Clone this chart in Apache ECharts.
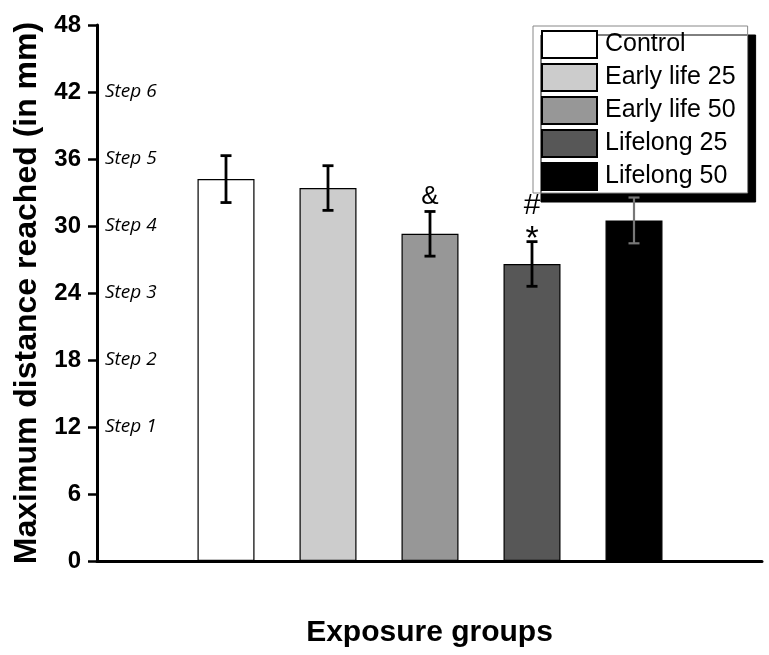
<!DOCTYPE html>
<html>
<head>
<meta charset="utf-8">
<script src="https://cdn.jsdelivr.net/npm/echarts@6/dist/echarts.min.js"></script>
<style>html,body{margin:0;padding:0;background:#fff}#c{width:769px;height:655px}</style>
</head>
<body>
<div id="c"></div>
<script>
const categories = ['Control', 'Early life 25', 'Early life 50', 'Lifelong 25', 'Lifelong 50'];
const means = [34.2, 33.4, 29.3, 26.6, 30.5];
const sds = [2.1, 2.0, 2.0, 2.0, 2.05];
const annotations = ['', '', '&', '#\n*', ''];
const yTicks = [0, 6, 12, 18, 24, 30, 36, 42, 48];
const stepTicks = [12, 18, 24, 30, 36, 42];
const stepNames = ['Step 1', 'Step 2', 'Step 3', 'Step 4', 'Step 5', 'Step 6'];

const barColors = ['#ffffff', '#cccccc', '#979797', '#575757', '#000000'];
const errColors = ['#000', '#000', '#000', '#000', '#777'];

const chart = echarts.init(document.getElementById('c'), null, {renderer: 'canvas'});
const F = 'Liberation Sans, Arial, sans-serif';
const TOP = 25, BOTTOM = 94;

const barSeries = categories.map((name, i) => ({
  name: name,
  type: 'bar',
  xAxisIndex: 1, yAxisIndex: 2,
  barWidth: 57,
  barGap: '-100%',
  data: categories.map((c, j) => j === i ? means[j] : null),
  itemStyle: {color: barColors[i], borderColor: '#000', borderWidth: 1.2},
  emphasis: {disabled: true},
  z: 2
}));

const errSeries = {
  type: 'custom',
  xAxisIndex: 1, yAxisIndex: 2,
  z: 5,
  silent: true,
  data: categories.map((c, i) => [i, means[i], sds[i]]),
  renderItem: function (params, api) {
    const i = api.value(0), m = api.value(1), s = api.value(2);
    const top = api.coord([i, m + s]);
    const bot = api.coord([i, m - s]);
    const col = errColors[i];
    const lw = i === 4 ? 2.2 : 2.8;
    const hw = 5.5;
    const children = [
      {type: 'line', shape: {x1: top[0], y1: top[1], x2: bot[0], y2: bot[1]}, style: {stroke: col, lineWidth: lw}},
      {type: 'line', shape: {x1: top[0] - hw, y1: top[1], x2: top[0] + hw, y2: top[1]}, style: {stroke: col, lineWidth: lw}},
      {type: 'line', shape: {x1: bot[0] - hw, y1: bot[1], x2: bot[0] + hw, y2: bot[1]}, style: {stroke: col, lineWidth: lw}}
    ];
    const ann = annotations[i];
    if (ann) {
      const lines = ann.split('\n').reverse();
      lines.forEach((t, k) => {
        const isStar = t === '*';
        children.push({
          type: 'text',
          style: {
            text: t, x: top[0], y: top[1] - (isStar ? 2 : 15) - k * 21,
            textAlign: 'center', textVerticalAlign: 'middle',
            font: (isStar ? '34px ' : (t === '&' ? '26px ' : '30px ')) + F,
            fill: '#000'
          }
        });
      });
    }
    return {type: 'group', children: children};
  }
};

const option = {
  backgroundColor: '#fff',
  animation: false,
  legend: {
    orient: 'vertical',
    left: 533, top: 26,
    data: categories,
    itemWidth: 55, itemHeight: 27, itemGap: 4,
    padding: [4, 12, 2, 8],
    icon: 'rect',
    backgroundColor: '#fff',
    borderColor: '#888', borderWidth: 1,
    shadowColor: '#000', shadowBlur: 0, shadowOffsetX: 8, shadowOffsetY: 9,
    selectedMode: false,
    textStyle: {fontFamily: F, fontSize: 25, color: '#000', padding: [0, 0, 0, 3]}
  },
  grid: [
    {left: 97, right: 7, top: TOP, bottom: BOTTOM},
    {left: 175, width: 510, top: TOP, bottom: BOTTOM}
  ],
  xAxis: [
    {gridIndex: 0, type: 'value', min: 0, max: 1,
     name: 'Exposure groups', nameLocation: 'middle', nameGap: 57,
     nameTextStyle: {fontFamily: F, fontSize: 30, fontWeight: 'bold', color: '#000'},
     axisLine: {show: true, lineStyle: {color: '#000', width: 3}},
     axisTick: {show: false}, axisLabel: {show: false}, splitLine: {show: false}},
    {gridIndex: 1, type: 'category', data: categories, show: false}
  ],
  yAxis: [
    {gridIndex: 0, type: 'value', min: 0, max: 48, interval: 6,
     name: 'Maximum distance reached (in mm)', nameLocation: 'middle', nameGap: 53,
     nameTextStyle: {fontFamily: F, fontSize: 32, fontWeight: 'bold', color: '#000'},
     axisLine: {show: true, lineStyle: {color: '#000', width: 3}},
     axisTick: {show: true, length: 9, lineStyle: {color: '#000', width: 2.5}},
     axisLabel: {margin: 16, fontFamily: F, fontSize: 24, fontWeight: 'bold', color: '#000',
       formatter: v => yTicks.indexOf(v) >= 0 ? String(v) : ''},
     splitLine: {show: false}},
    {gridIndex: 0, type: 'value', min: 0, max: 48, interval: 6, position: 'left',
     axisLine: {show: false}, axisTick: {show: false}, splitLine: {show: false},
     axisLabel: {inside: true, margin: 8, fontFamily: 'Open Sans, Noto Sans, sans-serif', fontStyle: 'italic', fontSize: 19, color: '#000',
       formatter: v => {const k = stepTicks.indexOf(v); return k >= 0 ? stepNames[k] : '';}}},
    {gridIndex: 1, type: 'value', min: 0, max: 48, show: false}
  ],
  series: barSeries.concat([errSeries])
};
chart.setOption(option);
</script>
</body>
</html>
